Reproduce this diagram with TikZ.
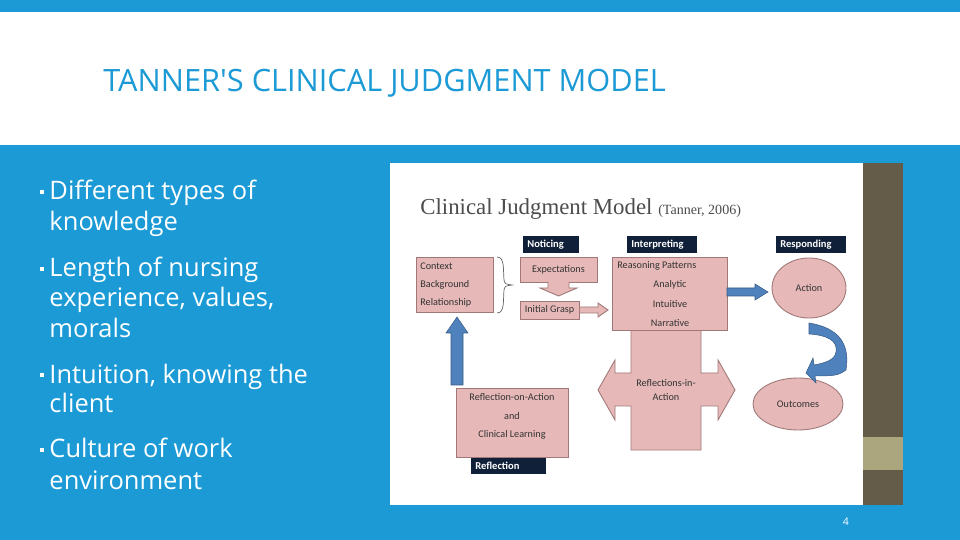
\documentclass[tikz,border=0pt]{standalone}
\usepackage{fontspec}
\setmainfont{Open Sans}
\newfontfamily\calfnt{Carlito}
\newfontfamily\serfnt{Liberation Serif}
\usetikzlibrary{shapes.arrows,shapes.geometric}
\definecolor{sky}{RGB}{27,154,214}
\definecolor{pk}{RGB}{230,185,184}
\definecolor{pkb}{RGB}{160,120,120}
\definecolor{hd}{RGB}{16,32,56}
\definecolor{ab}{RGB}{79,129,189}
\definecolor{brn}{RGB}{100,92,72}
\definecolor{kh}{RGB}{172,166,126}
\newcommand{\sqb}{\rule[0.25em]{2.2pt}{2.2pt}\hspace{3pt}}
\newcommand{\sqp}{\phantom{\sqb}}
\begin{document}
\begin{tikzpicture}[x=0.02cm,y=-0.02cm,
  bul/.style={anchor=base west,text=white,font=\fontsize{14.5}{16}\selectfont,inner sep=0},
  box/.style={draw=pkb,fill=pk,line width=0.5pt},
  hdr/.style={fill=hd},
  ht/.style={text=white,font=\calfnt\bfseries\fontsize{6}{7}\selectfont,inner sep=0,anchor=west},
  lb/.style={font=\calfnt\fontsize{5.8}{7}\selectfont,text=black!80,inner sep=0},
  blu/.style={fill=ab,draw=ab!70!black,line width=0.3pt}]
\useasboundingbox (0,0) rectangle (960,540);
\fill[white] (0,0) rectangle (960,540);
\fill[sky] (0,0) rectangle (960,12);
\fill[sky] (0,145) rectangle (960,540);
\node[anchor=base west,text=sky,font=\fontsize{17.5}{20}\selectfont,inner sep=0] (title) at (103,92) {TANNER\textquotesingle S CLINICAL JUDGMENT MODEL};
% bullets
\foreach \y/\t/\n in {200/{\sqb Different types of}/b1, 231/{\sqp knowledge}/b2, 277/{\sqb Length of nursing}/b3, 307/{\sqp experience, values,}/b4, 338/{\sqp morals}/b5, 383/{\sqb Intuition, knowing the}/b6, 413/{\sqp client}/b7, 458/{\sqb Culture of work}/b8, 489/{\sqp environment}/b9}
  \node[bul] (\n) at (40,\y) {\t};
% image panel
\fill[white] (390,163) rectangle (863,505);
\fill[brn] (863,163) rectangle (903,505);
\fill[kh] (863,437) rectangle (903,470);
\node[anchor=base west,inner sep=0,text=black!70,font=\serfnt\fontsize{13}{14}\selectfont] (ct) at (420,215) {Clinical Judgment Model \fontsize{8}{9}\selectfont(Tanner, 2006)};
% headers
\fill[hdr] (523,236) rectangle (579,253);
\node[ht] (hn) at (527,244.5) {Noticing};
\fill[hdr] (627,236) rectangle (697,253);
\node[ht] (hi) at (631,244.5) {Interpreting};
\fill[hdr] (776,236) rectangle (846,253);
\node[ht] (hr) at (780,244.5) {Responding};
% boxes
\draw[box] (416,257) rectangle (493,312);
\node[lb,anchor=west] (c1) at (420,266) {Context};
\node[lb,anchor=west] (c2) at (420,285) {Background};
\node[lb,anchor=west] (c3) at (420,303) {Relationship};
\draw[black!60,line width=0.4pt] (497,257) .. controls (505,257) and (503,270) .. (504,280) .. controls (505,284) .. (512,285) .. controls (505,286) .. (504,290) .. controls (503,300) and (505,313) .. (497,313);
\draw[box] (520,257) rectangle (597,282);
\node[lb] (ex) at (558.5,269.5) {Expectations};
\draw[box] (548,282) -- (548,288) -- (540,288) -- (558.5,296) -- (577,288) -- (569,288) -- (569,282);
\draw[box] (579,307) -- (598,307) -- (598,303) -- (608,310) -- (598,317) -- (598,313) -- (579,313);
\draw[box] (520,301) rectangle (579,319);
\node[lb] (ig) at (549.5,310) {Initial Grasp};
% cross arrow
\draw[box] (631,329) -- (701,329) -- (701,373) -- (718,373) -- (718,360) -- (735,390) -- (718,420) -- (718,406) -- (701,406) -- (701,450) -- (631,450) -- (631,406) -- (615,406) -- (615,420) -- (598,390) -- (615,360) -- (615,373) -- (631,373) -- cycle;
\node[lb,align=center] (ria) at (666,390) {Reflections-in-\\[1pt]Action};
\draw[box] (612,257) rectangle (727,330);
\node[lb,anchor=west] (rp) at (617,266) {Reasoning Patterns};
\node[lb] (an) at (670,285) {Analytic};
\node[lb] (in) at (670,304) {Intuitive};
\node[lb] (na) at (670,323) {Narrative};
% action / outcomes
\draw[box] (809,288) ellipse [x radius=37, y radius=30];
\node[lb] (act) at (809,288) {Action};
\draw[box] (798,404) ellipse [x radius=45, y radius=26];
\node[lb] (out) at (798,404) {Outcomes};
\draw[blu] (727,288) -- (755,288) -- (755,284) -- (768,292) -- (755,300) -- (755,296) -- (727,296) -- cycle;
% curved arrow
\draw[blu] (809,323) .. controls (840,328) and (850,345) .. (846,370) .. controls (836,378) and (825,375) .. (815,376) -- (816,383) -- (806,373) -- (813,358) -- (814,365) .. controls (825,363) and (835,360) .. (836,352) .. controls (838,340) and (826,335) .. (809,334) -- cycle;
% up arrow
\draw[blu] (451,385) -- (451,333) -- (446,333) -- (457,317) -- (468,333) -- (463,333) -- (463,385) -- cycle;
\draw[box] (456,388) rectangle (568,457);
\node[lb] (roa) at (512,397) {Reflection-on-Action};
\node[lb] (and) at (512,416) {and};
\node[lb] (cl) at (512,435) {Clinical Learning};
\fill[hdr] (471,458) rectangle (546,474);
\node[ht] (hrf) at (475,466) {Reflection};
\node[text=white,font=\fontsize{6}{7}\selectfont,inner sep=0] (pg) at (846,522) {4};
\end{tikzpicture}
\end{document}
